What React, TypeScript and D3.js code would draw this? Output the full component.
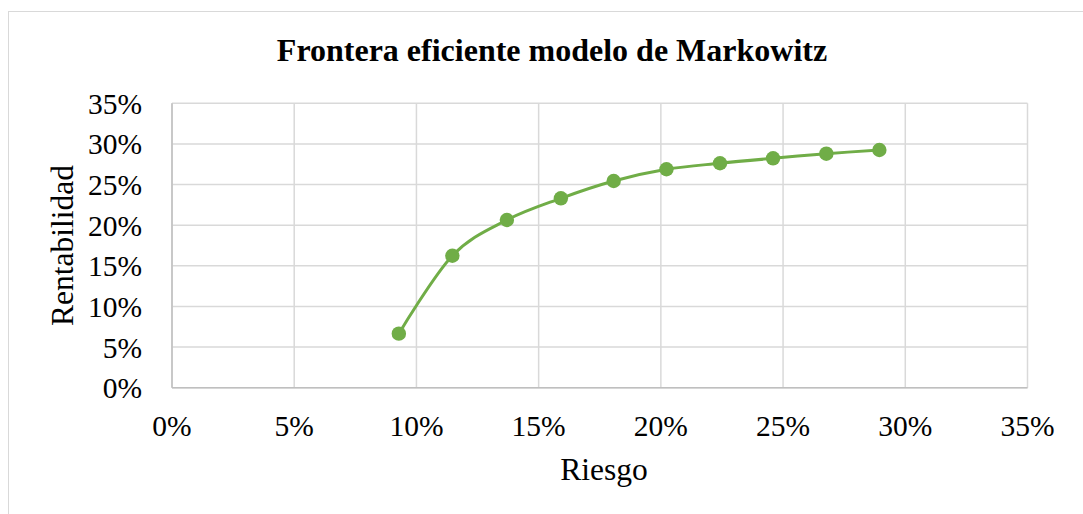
import React from "react";
import * as d3 from "d3";

const riesgo = [9.28, 11.47, 13.7, 15.91, 18.07, 20.23, 22.42, 24.59, 26.77, 28.94];
const rentabilidad = [6.65, 16.24, 20.64, 23.31, 25.44, 26.88, 27.62, 28.23, 28.8, 29.25];
const xTicks = [0, 5, 10, 15, 20, 25, 30, 35];
const yTicks = [0, 5, 10, 15, 20, 25, 30, 35];
const title = "Frontera eficiente modelo de Markowitz";
const xTitle = "Riesgo";
const yTitle = "Rentabilidad";

const W = 1083;
const H = 514;
const plot = { left: 172, right: 1027.5, top: 103.3, bottom: 387.7 };
const font = "'Liberation Serif', 'Times New Roman', serif";
const green = "#70ad47";

export default function App() {
  const x = d3.scaleLinear().domain([0, 35]).range([plot.left, plot.right]);
  const y = d3.scaleLinear().domain([0, 35]).range([plot.bottom, plot.top]);
  const pts = riesgo.map((r, i) => [r, rentabilidad[i]] as [number, number]);
  const line = d3
    .line<[number, number]>()
    .x((d) => x(d[0]))
    .y((d) => y(d[1]))
    .curve(d3.curveCatmullRom.alpha(0));

  return (
    <svg
      width={W}
      height={H}
      style={{ position: "absolute", left: 0, top: 0, background: "#fff" }}
    >
      <rect x={8.5} y={11.5} width={W + 20} height={H + 20} fill="#fff" stroke="#d9d9d9" strokeWidth={1} />
      <text x={552} y={61} textAnchor="middle" fontFamily={font} fontWeight="bold" fontSize={32} fill="#000">
        {title}
      </text>
      {xTicks.map((t) => (
        <line key={"gx" + t} x1={x(t)} x2={x(t)} y1={plot.top} y2={plot.bottom} stroke="#d9d9d9" strokeWidth={1.5} />
      ))}
      {yTicks.map((t) => (
        <line key={"gy" + t} x1={plot.left} x2={plot.right} y1={y(t)} y2={y(t)} stroke="#d9d9d9" strokeWidth={1.5} />
      ))}
      <line x1={plot.left} x2={plot.left} y1={plot.top} y2={plot.bottom} stroke="#bfbfbf" strokeWidth={1.5} />
      <line x1={plot.left} x2={plot.right} y1={plot.bottom} y2={plot.bottom} stroke="#bfbfbf" strokeWidth={1.5} />
      {yTicks.map((t) => (
        <text key={"ty" + t} x={142} y={y(t) + 10.5} textAnchor="end" fontFamily={font} fontSize={29.5} fill="#000">
          {t + "%"}
        </text>
      ))}
      {xTicks.map((t) => (
        <text key={"tx" + t} x={x(t)} y={436} textAnchor="middle" fontFamily={font} fontSize={29.5} fill="#000">
          {t + "%"}
        </text>
      ))}
      <text x={604} y={479.5} textAnchor="middle" fontFamily={font} fontSize={31.5} fill="#000">
        {xTitle}
      </text>
      <text
        transform={`translate(73,${(plot.top + plot.bottom) / 2}) rotate(-90)`}
        textAnchor="middle"
        fontFamily={font}
        fontSize={31.5}
        fill="#000"
      >
        {yTitle}
      </text>
      <path d={line(pts) || ""} fill="none" stroke={green} strokeWidth={3} strokeLinecap="round" />
      {pts.map((p, i) => (
        <circle key={"p" + i} cx={x(p[0])} cy={y(p[1])} r={7.2} fill={green} />
      ))}
    </svg>
  );
}
